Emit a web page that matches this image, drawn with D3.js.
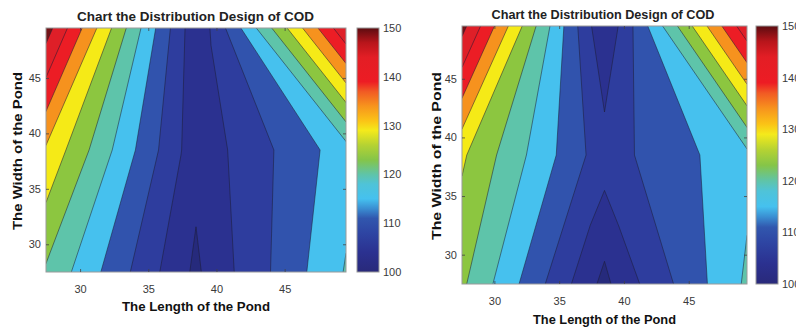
<!DOCTYPE html>
<html>
<head>
<meta charset="utf-8">
<script src="https://cdn.jsdelivr.net/npm/d3@7"></script>
<style>
  body { margin: 0; background: #fff; }
  svg { display: block; font-family: "Liberation Sans", Arial, sans-serif; }
</style>
</head>
<body>
<svg id="chart" width="796" height="331"></svg>
<script>
// contour levels of COD and the fill of each band (first = below 100)
const levels = [100, 105, 110, 115, 120, 125, 130, 135, 140, 145, 150];
const bandColors = ['#262a7c', '#2b3190', '#2e3d9e', '#3153ad', '#46c1ee', '#5ec4aa',
                    '#8cc640', '#f5ea17', '#f6921e', '#ec1d25', '#df1f28', '#741317'];

// colorbar gradient
const barValues = [100, 104, 108, 111, 113, 115, 118, 120, 123, 126, 129, 131, 134, 137, 139, 144, 147, 150];
const barColors = ['#29297a', '#2b3190', '#2e45a3', '#3157ae', '#3a8ed2', '#45c1ef', '#4fc3d8', '#5fc4a8',
                   '#85c548', '#b5d233', '#f4ea1b', '#fbc316', '#f7941d', '#f15a24', '#ed1c24', '#e31e25',
                   '#b8151b', '#5c0c10'];
const barTicks = [100, 110, 120, 130, 140, 150];

const axisDomain = [27.5, 49.5];
const xTicks = [30, 35, 40, 45];
const yTicks = [30, 35, 40, 45];

// left chart: grid (length x width) and COD, rows from top (49.5) to bottom (27.5)
const lengthA = [27.5, 37.4, 38.5, 39.6, 49.5];
const widthA = [49.5, 38.5, 27.5];
const codA = [
  [152.3, 106.4, 101.2, 105.3, 149.1],
  [134.3, 105.15, 101.7, 103.2, 117.8],
  [124.3, 101.4, 99.0, 101.8, 120.4]
];

// right chart
const lengthB = [27.5, 37.4, 38.5, 39.6, 49.5];
const widthB = [49.5, 38.5, 27.5];
const codB = [
  [151.7, 105.5, 100.0, 105.2, 148.5],
  [130.8, 109.3, 107.5, 108.8, 118.6],
  [125.9, 101.4, 98.4, 101.9, 120.85]
];

const title = 'Chart the Distribution Design of COD';
const xTitle = 'The Length of the Pond';
const yTitle = 'The Width of the Pond';

const svg = d3.select('#chart');
const defs = svg.append('defs');

const grad = defs.append('linearGradient').attr('id', 'jet')
  .attr('x1', 0).attr('y1', 1).attr('x2', 0).attr('y2', 0);
const stopPos = d3.scaleLinear().domain([100, 150]).range([0, 1]);
grad.selectAll('stop').data(barValues).join('stop')
  .attr('offset', d => stopPos(d))
  .attr('stop-color', (d, i) => barColors[i]);

function panel(id, p, xs, ys, cod) {
  const g = svg.append('g');
  const x = d3.scaleLinear().domain(axisDomain).range([p.l, p.r]);
  const y = d3.scaleLinear().domain(axisDomain).range([p.b, p.t]);

  // grid index -> pixel (values sit at i + 0.5 in d3.contours space)
  const gx = d3.scaleLinear().domain(xs.map((_, i) => i + 0.5)).range(xs.map(x));
  const gy = d3.scaleLinear().domain(ys.map((_, i) => i + 0.5)).range(ys.map(y));
  const path = d3.geoPath(d3.geoTransform({
    point(a, b) { this.stream.point(gx(a), gy(b)); }
  }));

  const bands = d3.contours()
    .size([xs.length, ys.length])
    .thresholds(levels)(cod.flat());

  defs.append('clipPath').attr('id', id)
    .append('rect').attr('x', p.l).attr('y', p.t).attr('width', p.r - p.l).attr('height', p.b - p.t);

  const body = g.append('g').attr('clip-path', `url(#${id})`);
  body.append('rect').attr('x', p.l).attr('y', p.t).attr('width', p.r - p.l).attr('height', p.b - p.t)
    .attr('fill', bandColors[0]);
  body.selectAll('path.band').data(bands).join('path')
    .attr('class', 'band')
    .attr('d', path)
    .attr('fill', (d, i) => bandColors[i + 1]);
  body.selectAll('path.iso').data(bands).join('path')
    .attr('class', 'iso')
    .attr('d', path)
    .attr('fill', 'none')
    .attr('stroke', '#1c1d33')
    .attr('stroke-opacity', 0.75)
    .attr('stroke-width', 0.7);

  // box
  g.append('rect').attr('x', p.l).attr('y', p.t).attr('width', p.r - p.l).attr('height', p.b - p.t)
    .attr('fill', 'none').attr('stroke', '#9a9a9a').attr('stroke-width', 1);

  const styleAxis = sel => {
    sel.select('.domain').remove();
    sel.selectAll('line').attr('stroke', '#444').attr('stroke-width', 0.8);
    sel.selectAll('text').attr('font-size', 11).attr('fill', '#3a3a3a');
  };
  g.append('g').attr('transform', `translate(0,${p.b})`)
    .call(d3.axisBottom(x).tickValues(xTicks).tickSize(-3).tickPadding(p.xpad)).call(styleAxis);
  g.append('g').attr('transform', `translate(0,${p.t})`)
    .call(d3.axisTop(x).tickValues(xTicks).tickSize(-3).tickFormat('')).call(styleAxis);
  g.append('g').attr('transform', `translate(${p.l},0)`)
    .call(d3.axisLeft(y).tickValues(yTicks).tickSize(-3).tickPadding(5)).call(styleAxis);
  g.append('g').attr('transform', `translate(${p.r},0)`)
    .call(d3.axisRight(y).tickValues(yTicks).tickSize(-3).tickFormat('')).call(styleAxis);

  // colorbar
  const cy = d3.scaleLinear().domain([100, 150]).range([p.b, p.t]);
  g.append('rect').attr('x', p.cl).attr('y', p.t).attr('width', p.cw).attr('height', p.b - p.t)
    .attr('fill', 'url(#jet)').attr('stroke', '#9a9a9a').attr('stroke-width', 1);
  g.append('g').attr('transform', `translate(${p.cl + p.cw},0)`)
    .call(d3.axisRight(cy).tickValues(barTicks).tickSize(0).tickPadding(4)).call(styleAxis);

  // titles
  g.append('text').attr('x', (p.l + p.r) / 2 + p.tdx).attr('y', p.ty)
    .attr('text-anchor', 'middle').attr('font-size', 13).attr('font-weight', 'bold').attr('fill', '#222')
    .attr('textLength', p.tw).attr('lengthAdjust', 'spacingAndGlyphs').text(title);
  g.append('text').attr('x', (p.l + p.r) / 2 + p.xdx).attr('y', p.xy)
    .attr('text-anchor', 'middle').attr('font-size', 13).attr('font-weight', 'bold').attr('fill', '#111')
    .attr('textLength', p.xw).attr('lengthAdjust', 'spacingAndGlyphs').text(xTitle);
  g.append('text').attr('transform', `translate(${p.yx},${p.yc}) rotate(-90)`)
    .attr('text-anchor', 'middle').attr('font-size', 13).attr('font-weight', 'bold').attr('fill', '#111')
    .attr('textLength', p.yw).attr('lengthAdjust', 'spacingAndGlyphs').text(yTitle);
}

panel('clipA', { l: 46, r: 346, t: 28, b: 272, xpad: 13, cl: 357, cw: 22,
  tdx: -0.5, ty: 21, tw: 237, xdx: 0, xy: 311, xw: 148, yx: 22, yc: 151, yw: 158 },
  lengthA, widthA, codA);
panel('clipB', { l: 462, r: 747, t: 26, b: 284, xpad: 13, cl: 756, cw: 22,
  tdx: -1.5, ty: 19, tw: 223, xdx: 0, xy: 324, xw: 143, yx: 441, yc: 156, yw: 168 },
  lengthB, widthB, codB);
</script>
</body>
</html>
